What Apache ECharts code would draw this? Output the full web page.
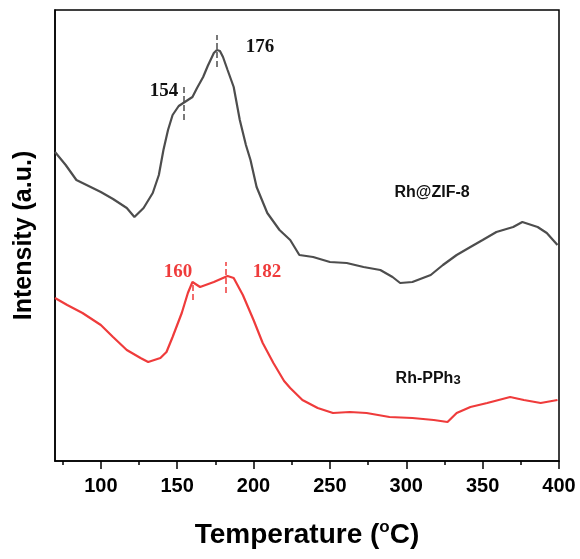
<!DOCTYPE html>
<html>
<head>
<meta charset="utf-8">
<script src="https://cdn.jsdelivr.net/npm/echarts@6/dist/echarts.min.js"></script>
<style>
  html, body { margin: 0; padding: 0; background: #fff; }
  #tpd { width: 580px; height: 559px; }
</style>
</head>
<body>
<div id="tpd"></div>
<script>
// TPD curves, temperature (oC) vs intensity (a.u.)
var zifT = [70, 77, 84, 92, 100, 108, 117, 122, 128, 134, 138, 141, 144, 147, 151, 154, 157, 160, 163, 167, 170, 174, 176, 178, 180, 183, 187, 191, 195, 198, 202, 209, 217, 224, 230, 239, 250, 261, 272, 283, 291, 296, 304, 316, 324, 333, 342, 350, 359, 370, 376, 386, 392, 399];
var zifI = [309, 296, 281, 275, 269, 262, 253, 244, 253, 268, 286, 311, 331, 346, 355, 358, 361, 364, 373, 384, 395, 408, 411, 410, 404, 391, 374, 341, 316, 301, 274, 248, 231, 221, 206, 204, 199, 198, 194, 191, 184, 178, 179, 186, 196, 206, 214, 221, 229, 234, 239, 234, 228, 216];

var pphT = [70, 78, 88, 100, 108, 117, 126, 131, 139, 143, 147, 153, 157, 160, 165, 174, 183, 187, 193, 200, 206, 213, 220, 224, 232, 242, 252, 263, 274, 289, 304, 318, 327, 333, 342, 353, 368, 377, 388, 399];
var pphI = [163, 156, 148, 136, 124, 111, 103, 99, 103, 109, 124, 148, 168, 179, 174, 179, 185, 183, 166, 141, 118, 98, 80, 73, 61, 53, 48, 49, 48, 44, 43, 41, 39, 48, 54, 58, 64, 61, 58, 61];

var majorTicks = [100, 150, 200, 250, 300, 350, 400];
var minorTicks = [75, 125, 175, 225, 275, 325, 375];

// dashed peak markers: [temperature, from, to]
var zifPeaks = [[154, 341, 374], [176, 394, 426]];
var pphPeaks = [[160, 161, 179], [182, 168, 199]];
// peak numbers: [text, temperature, intensity]
var zifPeakText = [['154', 141.4, 370], ['176', 204.2, 414]];
var pphPeakText = [['160', 150.5, 189], ['182', 208.8, 189]];

var zifColor = '#4d4d4d';
var pphColor = '#ef3b3b';

function pairs(t, v) {
  return t.map(function (x, i) { return [x, v[i]]; });
}

function peakLines(list) {
  return list.map(function (p) {
    return [{ coord: [p[0], p[1]] }, { coord: [p[0], p[2]] }];
  });
}

function peakLabels(list, color) {
  return list.map(function (p) {
    return {
      coord: [p[1], p[2]],
      symbolSize: 0,
      label: {
        show: true, formatter: p[0], color: color,
        fontFamily: 'Liberation Serif', fontWeight: 'bold', fontSize: 19
      }
    };
  });
}

var chart = echarts.init(document.getElementById('tpd'));

chart.setOption({
  animation: false,
  grid: {
    left: 55, right: 21, top: 10, bottom: 98,
    show: true, borderColor: '#000', borderWidth: 1.5
  },
  xAxis: [{
    type: 'value', min: 70, max: 400,
    name: '{t|Temperature (}{s|o}{t|C)}',
    nameLocation: 'middle', nameGap: 58,
    nameTextStyle: {
      rich: {
        t: { fontFamily: 'Liberation Sans', fontWeight: 'bold', fontSize: 28, color: '#000', lineHeight: 32 },
        s: { fontFamily: 'Liberation Sans', fontWeight: 'bold', fontSize: 17, color: '#000', verticalAlign: 'top', lineHeight: 32 }
      }
    },
    splitLine: { show: false },
    axisLine: { lineStyle: { color: '#000', width: 1.5 } },
    axisTick: { customValues: majorTicks, length: 8, lineStyle: { color: '#000', width: 1.5 } },
    axisLabel: {
      customValues: majorTicks, margin: 15,
      fontFamily: 'Liberation Sans', fontWeight: 'bold', fontSize: 20, color: '#000'
    }
  }, {
    type: 'value', min: 70, max: 400, position: 'bottom',
    splitLine: { show: false },
    axisLine: { show: false },
    axisTick: { customValues: minorTicks, length: 4, lineStyle: { color: '#000', width: 1.5 } },
    axisLabel: { show: false }
  }],
  yAxis: {
    type: 'value', min: 0, max: 451,
    name: 'Intensity (a.u.)',
    nameLocation: 'middle', nameGap: 18,
    nameTextStyle: { fontFamily: 'Liberation Sans', fontWeight: 'bold', fontSize: 25, color: '#000' },
    splitLine: { show: false },
    axisLine: { show: true, lineStyle: { color: '#000', width: 1.5 } },
    axisTick: { show: false },
    axisLabel: { show: false }
  },
  series: [{
    name: 'Rh@ZIF-8', type: 'line', data: pairs(zifT, zifI),
    showSymbol: false, lineStyle: { color: zifColor, width: 2.2 },
    markLine: {
      silent: true, symbol: 'none', label: { show: false },
      lineStyle: { color: zifColor, type: 'dashed', width: 1.5 },
      data: peakLines(zifPeaks)
    },
    markPoint: {
      silent: true,
      data: peakLabels(zifPeakText, '#111').concat([{
        coord: [316.9, 268], symbolSize: 0,
        label: { show: true, formatter: 'Rh@ZIF-8', color: '#111', fontFamily: 'Liberation Sans', fontWeight: 'bold', fontSize: 16 }
      }])
    }
  }, {
    name: 'Rh-PPh3', type: 'line', data: pairs(pphT, pphI),
    showSymbol: false, lineStyle: { color: pphColor, width: 2.2 },
    markLine: {
      silent: true, symbol: 'none', label: { show: false },
      lineStyle: { color: pphColor, type: 'dashed', width: 1.5 },
      data: peakLines(pphPeaks)
    },
    markPoint: {
      silent: true,
      data: peakLabels(pphPeakText, pphColor).concat([{
        coord: [314.3, 82], symbolSize: 0,
        label: {
          show: true, formatter: '{a|Rh-PPh}{b|3}',
          rich: {
            a: { color: '#111', fontFamily: 'Liberation Sans', fontWeight: 'bold', fontSize: 16 },
            b: { color: '#111', fontFamily: 'Liberation Sans', fontWeight: 'bold', fontSize: 13, verticalAlign: 'bottom' }
          }
        }
      }])
    }
  }]
});
</script>
</body>
</html>
